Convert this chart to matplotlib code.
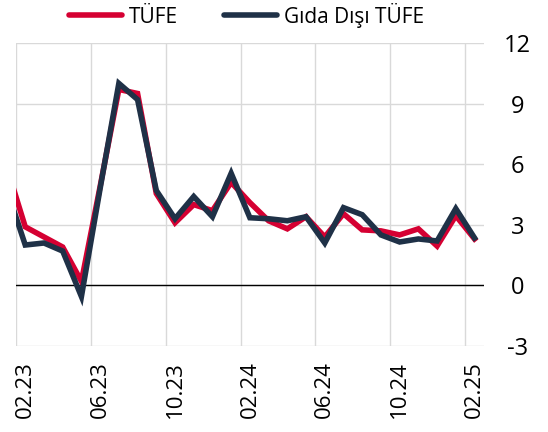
import numpy as np
import matplotlib.pyplot as plt

plt.rcParams["font.family"] = ["Open Sans", "DejaVu Sans"]

# Monthly values, 01.23 .. 02.25 (01.23 sits just outside the left edge)
months = ["01.23", "02.23", "03.23", "04.23", "05.23", "06.23", "07.23", "08.23",
          "09.23", "10.23", "11.23", "12.23", "01.24", "02.24", "03.24", "04.24",
          "05.24", "06.24", "07.24", "08.24", "09.24", "10.24", "11.24", "12.24",
          "01.25", "02.25"]
tufe = [5.9, 2.9, 2.4, 1.9, 0.2, 4.9, 9.7, 9.5, 4.55, 3.1, 4.0, 3.7, 5.1,
        4.1, 3.2, 2.8, 3.4, 2.4, 3.55, 2.75, 2.7, 2.5, 2.8, 1.95, 3.45, 2.3]
gida_disi = [4.8, 2.0, 2.1, 1.7, -0.55, 4.8, 10.0, 9.2, 4.7, 3.3, 4.4, 3.4, 5.55,
             3.35, 3.3, 3.2, 3.4, 2.1, 3.85, 3.5, 2.5, 2.15, 2.3, 2.2, 3.8, 2.35]
tick_labels = ["02.23", "06.23", "10.23", "02.24", "06.24", "10.24", "02.25"]

red = "#d50032"
navy = "#1f3147"

# point of month m drawn mid-month, gridline at start of month
x = np.arange(len(months)) - 0.5

fig = plt.figure(figsize=(5.48, 4.32), dpi=100)
ax = fig.add_axes([0.029, 0.199, 0.854, 0.7015])

ax.plot(x, tufe, color=red, lw=4, solid_joinstyle="miter", label="TÜFE", zorder=3)
ax.plot(x, gida_disi, color=navy, lw=4, solid_joinstyle="miter",
        label="Gıda Dışı TÜFE", zorder=4)
ax.axhline(0, color="black", lw=1, zorder=2)

ax.set_xlim(0, 25)
ax.set_ylim(-3, 12)

label_pos = [months.index(m) - 0.5 for m in tick_labels]
grid_pos = [months.index(m) - 1 for m in tick_labels]
ax.set_xticks(label_pos)
ax.set_xticklabels(tick_labels, rotation=90, fontsize=16)
ax.set_xticks(grid_pos, minor=True)
ax.set_yticks([-3, 0, 3, 6, 9, 12])
ax.set_yticklabels(["-3", "0", "3", "6", "9", "12"], fontsize=17)

ax.yaxis.tick_right()
ax.tick_params(axis="both", which="both", length=0)
ax.tick_params(axis="x", pad=11)
ax.tick_params(axis="y", pad=24)
for lab in ax.get_yticklabels():
    lab.set_horizontalalignment("center")

ax.grid(axis="y", color="#d9d9d9", lw=1)
ax.grid(axis="x", which="minor", color="#d9d9d9", lw=1)
ax.grid(axis="x", which="major", visible=False)
for s in ax.spines.values():
    s.set_visible(False)

leg = fig.legend(loc="center", bbox_to_anchor=(0.45, 0.965), ncol=2, frameon=False,
                 fontsize=15, handlelength=2.55, handletextpad=0.35,
                 columnspacing=2.2)
for line in leg.get_lines():
    line.set_linewidth(4)
    line.set_solid_capstyle("round")

fig.savefig("out.png", dpi=100)
